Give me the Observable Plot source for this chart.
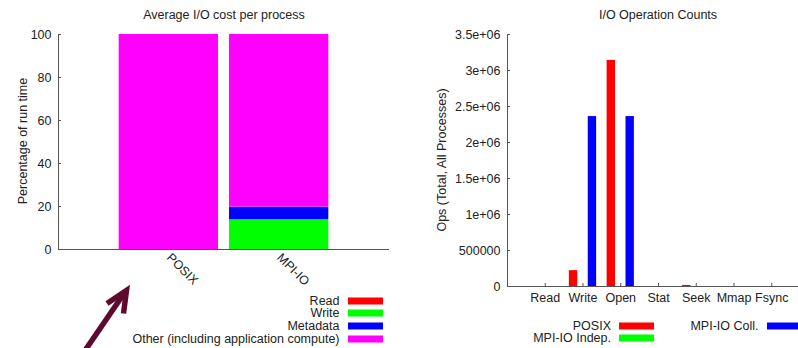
<!DOCTYPE html>
<html><head><meta charset="utf-8">
<script src="https://cdn.jsdelivr.net/npm/d3@7"></script>
<script src="https://cdn.jsdelivr.net/npm/@observablehq/plot@0.6"></script>
<style>
html,body{margin:0;padding:0;background:#fff;overflow:hidden;}
#wrap{position:relative;width:798px;height:348px;overflow:hidden;font-family:"Liberation Sans",Arial,sans-serif;color:#222;font-size:12.5px;}
.abs{position:absolute;white-space:nowrap;line-height:1;}
.c{transform:translate(-50%,-50%);}
.rot{transform:translate(-50%,-50%) rotate(-90deg);}
.r{transform:translate(-100%,-50%);}
.sw{position:absolute;height:7px;width:35px;transform:translateY(-50%);box-sizing:border-box;}
#left,#right{position:absolute;top:0;height:348px;}
#left{left:0;width:400px;} #right{left:400px;width:410px;}
#left svg,#right svg{max-width:none !important;display:block;}
</style></head>
<body><div id="wrap">
<div id="left"></div><div id="right"></div>
</div>
<script>
// ---- Left chart data: Average I/O cost per process ----
const costCategories = ["POSIX", "MPI-IO"];
const costComponents = ["Read", "Write", "Metadata", "Other (including application compute)"];
const costColors = ["#ff0000", "#00ff00", "#0000ff", "#ff00ff"];
const posixCost = [0, 0, 0, 100];
const mpiioCost = [0, 13.8, 5.9, 80.3];
const costTicks = [0, 20, 40, 60, 80, 100];

// ---- Right chart data: I/O Operation Counts ----
const opNames = ["Read", "Write", "Open", "Stat", "Seek", "Mmap", "Fsync"];
const opSeries = ["POSIX", "MPI-IO Indep.", "MPI-IO Coll."];
const opColors = ["#ff0000", "#00ff00", "#0000ff"];
const posixOps = [0, 220000, 3140000, 0, 15000, 0, 0];
const mpiIndepOps = [0, 0, 0, 0, 0, 0, 0];
const mpiCollOps = [0, 2360000, 2360000, 0, 0, 0, 0];
const opTicks = [0, 500000, 1000000, 1500000, 2000000, 2500000, 3000000, 3500000];
const opTickLabels = ["0", "500000", "1e+06", "1.5e+06", "2e+06", "2.5e+06", "3e+06", "3.5e+06"];

const FONT = '"Liberation Sans", Arial, sans-serif';
const baseStyle = {fontFamily: FONT, fontSize: "12.5px", color: "#222", background: "transparent", overflow: "visible"};

// stacked rows for left chart
const costRows = [];
costCategories.forEach((cat, i) => {
  const vals = i === 0 ? posixCost : mpiioCost;
  let acc = 0;
  costComponents.forEach((comp, j) => {
    costRows.push({cat, i, comp, y1: acc, y2: acc + vals[j]});
    acc += vals[j];
  });
});

const left = Plot.plot({
  width: 400, height: 348,
  marginLeft: 58, marginRight: 11, marginTop: 34, marginBottom: 99,
  style: baseStyle,
  x: {domain: [-1, 2]},
  y: {domain: [0, 100]},
  color: {domain: costComponents, range: costColors},
  marks: [
    Plot.rectY(costRows.filter(d => d.y2 > d.y1), {
      x1: d => d.i - 0.45, x2: d => d.i + 0.45, y1: "y1", y2: "y2", fill: "comp"
    }),
    Plot.ruleY([0], {stroke: "#555"}),
    Plot.ruleX([-1], {stroke: "#555"}),
    Plot.axisY({ticks: costTicks, tickSize: -3, tickPadding: 10, label: null, stroke: "#555"}),
    Plot.axisX({ticks: [0, 1], tickFormat: i => costCategories[i], tickSize: 0, tickPadding: 6, tickRotate: 45, label: null})
  ]
});
document.getElementById("left").appendChild(left);

// grouped rows for right chart
const opRows = [];
const opArrays = [posixOps, mpiIndepOps, mpiCollOps];
opNames.forEach((op, i) => {
  opArrays.forEach((arr, s) => {
    opRows.push({op, i, s, series: opSeries[s], value: arr[i]});
  });
});

const right = Plot.plot({
  width: 410, height: 348,
  marginLeft: 107, marginRight: 1, marginTop: 34, marginBottom: 62,
  style: baseStyle,
  x: {domain: [-1, 7]},
  y: {domain: [0, 3500000]},
  color: {domain: opSeries, range: opColors},
  marks: [
    Plot.rectY(opRows.filter(d => d.value > 0), {
      x1: d => d.i + (d.s - 1) * 0.25 - 0.111,
      x2: d => d.i + (d.s - 1) * 0.25 + 0.111,
      y: "value", fill: "series"
    }),
    Plot.ruleY([0], {stroke: "#555"}),
    Plot.ruleX([-1], {stroke: "#555"}),
    Plot.axisY({ticks: opTicks, tickFormat: (d, k) => opTickLabels[k], tickSize: -3, tickPadding: 10, label: null, stroke: "#555"}),
    Plot.axisX({ticks: d3.range(opNames.length), tickFormat: i => opNames[i], tickSize: -3, tickPadding: 10, label: null, stroke: "#555"})
  ]
});
document.getElementById("right").appendChild(right);

// ---- Text: titles, axis labels, legends ----
const wrap = document.getElementById("wrap");
function addText(txt, x, y, cls) {
  const d = document.createElement("div");
  d.className = "abs " + cls;
  d.style.left = x + "px"; d.style.top = y + "px";
  d.textContent = txt;
  wrap.appendChild(d);
}
function addSwatch(color, x, y) {
  const d = document.createElement("div");
  d.className = "sw";
  d.style.left = x + "px"; d.style.top = y + "px";
  d.style.background = color;
  wrap.appendChild(d);
}
addText("Average I/O cost per process", 224, 15, "c");
addText("I/O Operation Counts", 658, 15, "c");
addText("Percentage of run time", 22.5, 141, "rot");
addText("Ops (Total, All Processes)", 441.5, 160, "rot");

const leftLegendY = [300.5, 313.2, 325.9, 338.6];
costComponents.forEach((c, j) => {
  addText(c, 339.5, leftLegendY[j], "r");
  addSwatch(costColors[j], 347.5, leftLegendY[j]);
});
// right legend: two columns
addText(opSeries[0], 611, 325.7, "r"); addSwatch(opColors[0], 618.5, 325.7);
addText(opSeries[1], 611, 338.4, "r"); addSwatch(opColors[1], 618.5, 338.4);
addText(opSeries[2], 758.5, 325.7, "r"); addSwatch(opColors[2], 766.5, 325.7);

// annotation arrow
const ns = "http://www.w3.org/2000/svg";
const arrow = document.createElementNS(ns, "svg");
arrow.setAttribute("width", 798); arrow.setAttribute("height", 348);
arrow.style.position = "absolute"; arrow.style.left = "0"; arrow.style.top = "0";
arrow.innerHTML = '<g stroke="#5e0a2e" stroke-width="5.5" fill="none" stroke-linejoin="miter">' +
  '<line x1="84" y1="352" x2="125" y2="292"/>' +
  '<polyline points="107,303.5 126.5,290.5 123.5,313.5"/></g>';
wrap.appendChild(arrow);
</script>
</body></html>
